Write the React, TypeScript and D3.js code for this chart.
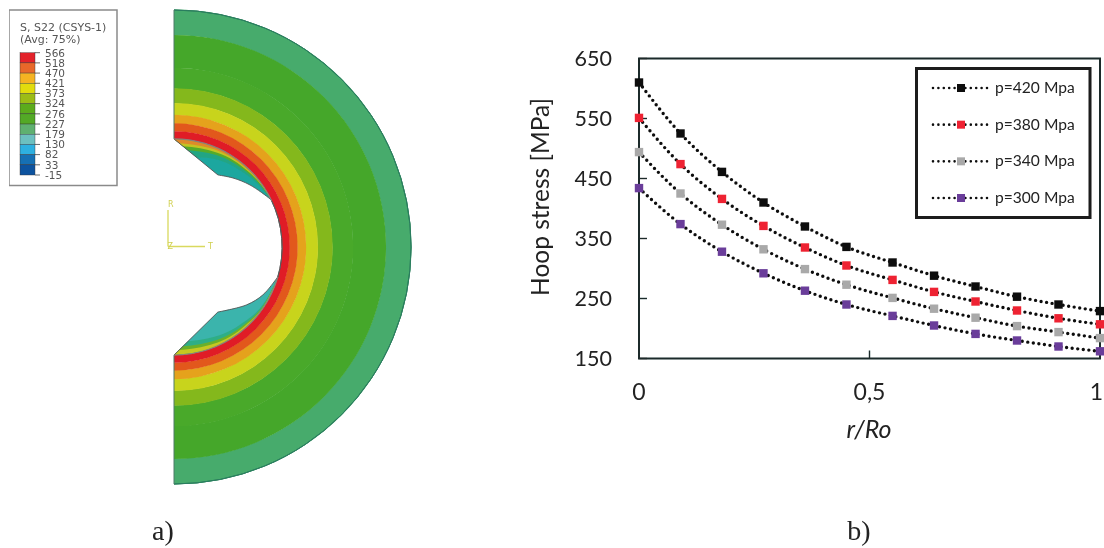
import React from 'react';
import * as d3 from 'd3';

// right panel: hoop stress curves
const rOverRo = [0, 0.09, 0.18, 0.27, 0.36, 0.45, 0.55, 0.64, 0.73, 0.82, 0.91, 1];
const p420 = [610, 525, 461, 410, 370, 336, 310, 288, 270, 253, 240, 229];
const p380 = [551, 474, 416, 371, 335, 305, 281, 261, 245, 230, 217, 207];
const p340 = [494, 425, 373, 332, 299, 273, 251, 233, 218, 204, 194, 184];
const p300 = [434, 374, 328, 292, 263, 240, 221, 205, 191, 180, 170, 162];
const seriesNames = ['p=420 Mpa', 'p=380 Mpa', 'p=340 Mpa', 'p=300 Mpa'];
const seriesValues = [p420, p380, p340, p300];
const seriesColors = ['#0a0a0a', '#ee2430', '#a9a9a9', '#6a3d9a'];
const yTicks = [150, 250, 350, 450, 550, 650];
const xTicks = [0, 0.5, 1];
const xTickLabels = ['0', '0,5', '1'];

// left panel: contour legend
const contourLevels = [566, 518, 470, 421, 373, 324, 276, 227, 179, 130, 82, 33, -15];
const contourColors = ['#e3202c', '#e8682a', '#f5b324', '#e2dc10', '#9cbc14', '#5cab1e', '#52a925', '#5fb070', '#6cc0c0', '#2eb0e0', '#1270b4', '#0f529f'];

// left panel: contour bands, r as a share of the outer radius
const bandEdges = [1, 0.893, 0.755, 0.668, 0.606, 0.556, 0.52, 0.487, 0.456];
const bandColors = ['#46ab6c', '#45a72c', '#48a92c', '#84b81c', '#c8d41c', '#e5a21e', '#e2591c', '#e01a28'];

// notch outline, [degrees from the axis, share of outer radius]
const upperNotch = [[0, 0.456], [31.4, 0.356], [40.5, 0.383], [50.8, 0.414], [63.4, 0.453], [64.6, 0.456]];
const lowerNotch = [[0, 0.456], [34, 0.331], [51.5, 0.392], [61.7, 0.426], [73.3, 0.454], [74, 0.456]];

// thin layers inside the notch, [degrees, depth below the bore radius]
const upperLayers = [
  { color: '#23a583', depth: [[0, 0.075], [20, 0.055], [40, 0.03], [55, 0.012], [64, 0]] },
  { color: '#55ab2c', depth: [[0, 0.045], [20, 0.034], [40, 0.018], [55, 0.007], [64, 0]] },
  { color: '#c3c320', depth: [[0, 0.028], [20, 0.022], [40, 0.011], [55, 0.004], [64, 0]] },
  { color: '#de8a2a', depth: [[0, 0.016], [20, 0.012], [40, 0.006], [55, 0.002], [64, 0]] },
];
const lowerLayers = [
  { color: '#2fae86', depth: [[0, 0.055], [20, 0.045], [40, 0.026], [60, 0.008], [73, 0]] },
  { color: '#6bb02a', depth: [[0, 0.034], [20, 0.028], [40, 0.016], [60, 0.005], [73, 0]] },
  { color: '#c5c820', depth: [[0, 0.02], [20, 0.016], [40, 0.009], [60, 0.003], [73, 0]] },
];

const width = 1104;
const height = 548;
const sans = 'Lato, sans-serif';
const serif = '"Liberation Serif", serif';
const deg = (d: number) => (d * Math.PI) / 180;

const x = d3.scaleLinear().domain([0, 1]).range([639, 1100]);
const y = d3.scaleLinear().domain([150, 650]).range([358.5, 58.5]);
const curve = d3.line<number>()
  .x((_, i) => x(rOverRo[i]))
  .y((d) => y(d))
  .curve(d3.curveMonotoneX);

const cx = 174;
const cy = 247;
const radius = d3.scaleLinear().domain([0, 1]).range([0, 237]);
const bore = 0.456;
const band = d3.arc();
const legendY = d3.scaleBand<number>().domain(d3.range(contourColors.length)).range([52.7, 175]);
const legendRows = d3.scalePoint<string>().domain(seriesNames).range([88, 198]);

// straight chamfer from the bore to the first point, then a smooth curve back to the bore
function outline(points: number[][]) {
  const smooth = d3.lineRadial<number[]>()
    .angle((d) => deg(d[0]))
    .radius((d) => radius(d[1]))
    .curve(d3.curveCatmullRom);
  const straight = d3.lineRadial<number[]>()
    .angle((d) => deg(d[0]))
    .radius((d) => radius(d[1]));
  return (straight(points.slice(0, 2)) as string) + (smooth(points.slice(1)) as string).replace('M', 'L');
}

function notchPath(points: number[][]) {
  const edge = d3.lineRadial<number>()
    .angle((d) => d)
    .radius(radius(bore));
  const last = points[points.length - 1][0];
  const back = d3.range(deg(last), 0, -0.05);
  const tail = (edge(back.concat([0])) as string).replace('M', 'L');
  return outline(points) + tail + 'Z';
}

function layerPath(depth: number[][]) {
  const area = d3.areaRadial<number[]>()
    .angle((d) => deg(d[0]))
    .innerRadius((d) => radius(bore - d[1]))
    .outerRadius(radius(bore))
    .curve(d3.curveMonotoneX);
  return area(depth) as string;
}

function Notch({ points, layers, fill, flip, id }: any) {
  const d = notchPath(points);
  return (
    <g transform={`translate(${cx},${cy})${flip ? ' scale(1,-1)' : ''}`}>
      <clipPath id={id}><path d={d} /></clipPath>
      <path d={d} fill={fill} />
      <g clipPath={`url(#${id})`}>
        {layers.map((l: any) => <path key={l.color} d={layerPath(l.depth)} fill={l.color} />)}
      </g>
      <path d={outline(points)} fill="none" stroke="#555" strokeWidth={0.9} />
      <path d={band({ innerRadius: radius(bore) - 0.6, outerRadius: radius(bore) + 0.6, startAngle: 0, endAngle: deg(points[points.length - 1][0]) }) as string}
        fill="#8a7f78" />
    </g>
  );
}

function ContourPanel() {
  return (
    <g>
      <rect x={9} y={10} width={108} height={175.5} fill="#fff" stroke="#8a8a8a" strokeWidth={1.5} />
      <text x={20} y={31} fontFamily="DejaVu Sans" fontSize={11} fill="#555">S, S22 (CSYS-1)</text>
      <text x={20} y={43} fontFamily="DejaVu Sans" fontSize={11} fill="#555">(Avg: 75%)</text>
      {contourColors.map((c, i) => (
        <rect key={c} x={20} y={legendY(i)} width={15} height={legendY.bandwidth()} fill={c} stroke="#333" strokeWidth={0.4} />
      ))}
      {contourLevels.map((v, i) => {
        const ty = 52.7 + i * legendY.step();
        return (
          <g key={v}>
            <line x1={35} x2={40} y1={ty} y2={ty} stroke="#444" strokeWidth={0.8} />
            <text x={45} y={ty + 3.8} fontFamily="DejaVu Sans" fontSize={10.5} fill="#555">{v}</text>
          </g>
        );
      })}

      <g transform={`translate(${cx},${cy})`}>
        {bandColors.map((c, i) => (
          <path key={c} fill={c}
            d={band({ innerRadius: radius(bandEdges[i + 1]), outerRadius: radius(bandEdges[i]) + 0.4, startAngle: 0, endAngle: Math.PI }) as string} />
        ))}
        <path fill="none" stroke="#2b7d5e" strokeWidth={1}
          d={d3.arc()({ innerRadius: radius(1), outerRadius: radius(1), startAngle: 0, endAngle: Math.PI }) as string} />
        <path fill="none" stroke="#5a5a5a" strokeWidth={1}
          d={d3.arc()({ innerRadius: radius(bore), outerRadius: radius(bore), startAngle: deg(64), endAngle: deg(107) }) as string} />
      </g>
      <line x1={cx} x2={cx} y1={cy - radius(1)} y2={cy - radius(bore)} stroke="#4f7a68" strokeWidth={1} />
      <line x1={cx} x2={cx} y1={cy + radius(bore)} y2={cy + radius(1)} stroke="#4f7a68" strokeWidth={1} />

      <Notch id="notch-top" points={upperNotch} layers={upperLayers} fill="#1ea79f" />
      <Notch id="notch-bottom" points={lowerNotch} layers={lowerLayers} fill="#3bb4ac" flip />

      <g stroke="#d9d95e" strokeWidth={1.3} fill="none">
        <line x1={168} x2={168} y1={210} y2={246.5} />
        <line x1={168} x2={205} y1={246.5} y2={246.5} />
      </g>
      <g fontFamily="DejaVu Sans" fontSize={8} fill="#d0d050">
        <text x={168} y={207}>R</text>
        <text x={167.5} y={248.5}>Z</text>
        <text x={208} y={248.5}>T</text>
      </g>
      <text x={163} y={540} fontFamily={serif} fontSize={28} textAnchor="middle" fill="#222">a)</text>
    </g>
  );
}

function StressPanel() {
  const axisColor = '#1c2a2a';
  return (
    <g>
      <rect x={x(0)} y={y(650)} width={x(1) - x(0)} height={y(150) - y(650)} fill="none" stroke={axisColor} strokeWidth={2} />
      {yTicks.map((t) => (
        <g key={t}>
          <line x1={x(0)} x2={x(0) + 8} y1={y(t)} y2={y(t)} stroke={axisColor} strokeWidth={1.4} />
          <text x={612} y={y(t) + 7.5} textAnchor="end" fontFamily={sans} fontSize={21.5} fill="#222">{t}</text>
        </g>
      ))}
      {xTicks.map((t, i) => (
        <g key={t}>
          <line x1={x(t)} x2={x(t)} y1={y(150)} y2={y(150) - 8} stroke={axisColor} strokeWidth={1.4} />
          <text x={t === 1 ? 1103 : x(t)} y={400} textAnchor={t === 1 ? 'end' : 'middle'} fontFamily={sans} fontSize={23} fill="#222">{xTickLabels[i]}</text>
        </g>
      ))}
      <text transform="translate(549,197) rotate(-90)" textAnchor="middle" fontFamily={sans} fontSize={24.5} fill="#222">Hoop stress [MPa]</text>
      <text x={869} y={438} textAnchor="middle" fontFamily={sans} fontStyle="italic" fontSize={25} fill="#222">r/Ro</text>

      {seriesValues.map((vals, s) => (
        <g key={seriesNames[s]}>
          <path d={curve(vals) as string} fill="none" stroke="#111" strokeWidth={3.4} strokeLinecap="round" strokeDasharray="0 5.6" />
          {vals.map((v, i) => (
            <rect key={i} x={x(rOverRo[i]) - 4.2} y={y(v) - 4.2} width={8.4} height={8.4} fill={seriesColors[s]} />
          ))}
        </g>
      ))}

      <rect x={916.5} y={68.5} width={173.5} height={149} fill="#fff" stroke="#1a1a1a" strokeWidth={3} />
      {seriesNames.map((name, s) => {
        const ly = legendRows(name) as number;
        return (
          <g key={name}>
            <line x1={933} x2={989} y1={ly} y2={ly} stroke="#111" strokeWidth={2.6} strokeLinecap="round" strokeDasharray="0 5.4" />
            <rect x={957} y={ly - 4} width={8} height={8} fill={seriesColors[s]} />
            <text x={995} y={ly + 5} fontFamily={sans} fontSize={15.6} fill="#222">{name}</text>
          </g>
        );
      })}
      <text x={859} y={540} textAnchor="middle" fontFamily={serif} fontSize={28} fill="#222">b)</text>
    </g>
  );
}

export default function App() {
  return (
    <svg width={width} height={height} viewBox={`0 0 ${width} ${height}`} style={{ position: 'absolute', left: 0, top: 0, background: '#fff' }}>
      <defs>
        <filter id="soft" x="0" y="0" width="100%" height="100%">
          <feGaussianBlur stdDeviation="0.45" />
        </filter>
      </defs>
      <g filter="url(#soft)">
        <ContourPanel />
        <StressPanel />
      </g>
    </svg>
  );
}
